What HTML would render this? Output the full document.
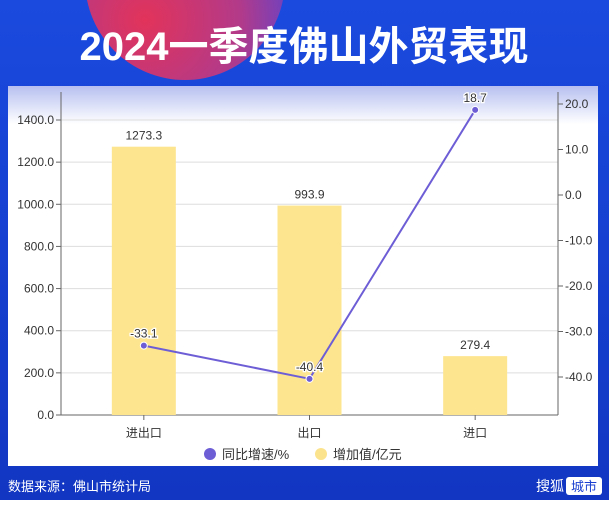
<!DOCTYPE html>
<html><head><meta charset="utf-8"><style>
body{margin:0;width:609px;height:500px;overflow:hidden;font-family:"Liberation Sans","Noto Sans CJK SC",sans-serif;}
</style></head><body>
<svg width="609" height="500" xmlns="http://www.w3.org/2000/svg">
<defs>
<linearGradient id="bg" x1="0" y1="0" x2="0" y2="1"><stop offset="0" stop-color="#1a4ade"/><stop offset="1" stop-color="#1236c2"/></linearGradient>
<radialGradient id="circ" cx="0.3" cy="0.7" r="0.8"><stop offset="0" stop-color="#e2335a"/><stop offset="0.6" stop-color="#b23a8a"/><stop offset="1" stop-color="#5a44d0"/></radialGradient>
<linearGradient id="panel" x1="0" y1="0" x2="0" y2="1"><stop offset="0" stop-color="#b7c0f0"/><stop offset="0.1" stop-color="#ffffff"/><stop offset="1" stop-color="#ffffff"/></linearGradient>
</defs>
<rect width="609" height="500" fill="url(#bg)"/>
<circle cx="185" cy="-20" r="100" fill="url(#circ)"/>
<text x="304" y="60" text-anchor="middle" font-size="40" font-weight="bold" fill="#fff">2024一季度佛山外贸表现</text>
<rect x="8" y="86" width="590" height="380" fill="url(#panel)"/>
<g id="plot"></g>
<circle cx="210" cy="454" r="6" fill="#6e5ed6"/>
<text x="222" y="459" font-size="13" fill="#333">同比增速/%</text>
<circle cx="321" cy="454" r="6" fill="#fbe38d"/>
<text x="333" y="459" font-size="13" fill="#333">增加值/亿元</text>
<text x="8" y="491" font-size="13" fill="#fff">数据来源：佛山市统计局</text>
<text x="536" y="491" font-size="14" fill="#fff">搜狐</text>
<rect x="566" y="477" width="36" height="18" rx="3" fill="#fff"/>
<text x="584" y="491" text-anchor="middle" font-size="13" fill="#1a3fd0">城市</text>
</svg>
<script>
const categories=["进出口","出口","进口"];
const values=[1273.3,993.9,279.4];
const growth=[-33.1,-40.4,18.7];
const leftTicks=[0,200,400,600,800,1000,1200,1400];
const rightTicks=[-40,-30,-20,-10,0,10,20];
const NS="http://www.w3.org/2000/svg";
const g=document.getElementById('plot');
const X0=61,X1=558,Y0=415;
const yL=v=>Y0-v*(295/1400);
const yR=v=>195-v*4.55;
const band=(X1-X0)/categories.length;
const xC=i=>X0+band*(i+0.5);
function mk(t,a,txt){const e=document.createElementNS(NS,t);for(const k in a)e.setAttribute(k,a[k]);if(txt!=null)e.textContent=txt;g.appendChild(e);return e;}
leftTicks.forEach(v=>{
 if(v>0){const l=mk('line',{x1:X0,x2:X1,y1:yL(v),y2:yL(v),stroke:'#ddd'});
 
 }
 const tk=mk('line',{x1:X0-5,x2:X0,y1:yL(v),y2:yL(v),stroke:'#666'});
 
 
 const t=mk('text',{x:X0-7,y:yL(v)+4,'text-anchor':'end','font-size':12,fill:'#333'},v.toFixed(1));
 
 
});
rightTicks.forEach(v=>{
 const tk=mk('line',{x1:X1,x2:X1+5,y1:yR(v),y2:yR(v),stroke:'#666'});
 
 
 const t=mk('text',{x:X1+7,y:yR(v)+4,'font-size':12,fill:'#333'},v.toFixed(1));
 
 
});
let a=mk('line',{x1:X0,x2:X0,y1:92,y2:Y0,stroke:'#666'});


a=mk('line',{x1:X1,x2:X1,y1:92,y2:Y0,stroke:'#666'});


a=mk('line',{x1:X0,x2:X1,y1:Y0,y2:Y0,stroke:'#666'});


categories.forEach((c,i)=>{
 const b=mk('rect',{x:xC(i)-32,y:yL(values[i]),width:64,height:Y0-yL(values[i]),fill:'#fde58f'});
 
 
 const bl=mk('text',{x:xC(i),y:yL(values[i])-7,'text-anchor':'middle','font-size':12,fill:'#333'},values[i].toFixed(1));
 
 
 const tk=mk('line',{x1:xC(i),x2:xC(i),y1:Y0,y2:Y0+5,stroke:'#666'});
 
 
 const t=mk('text',{x:xC(i),y:Y0+22,'text-anchor':'middle','font-size':12,fill:'#333'},c);
 
 
});
const ln=mk('polyline',{points:growth.map((v,i)=>xC(i)+','+yR(v)).join(' '),fill:'none',stroke:'#6e5ed6','stroke-width':2});


growth.forEach((v,i)=>{
 const p=mk('circle',{cx:xC(i),cy:yR(v),r:3.5,fill:'#6e5ed6',stroke:'#fff','stroke-width':1});
 
 
 const t=mk('text',{x:xC(i),y:yR(v)-8,'text-anchor':'middle','font-size':12,fill:'#333',stroke:'#fff','stroke-width':2.5,'paint-order':'stroke'},v.toFixed(1));
 
 
});
</script>
</body></html>
